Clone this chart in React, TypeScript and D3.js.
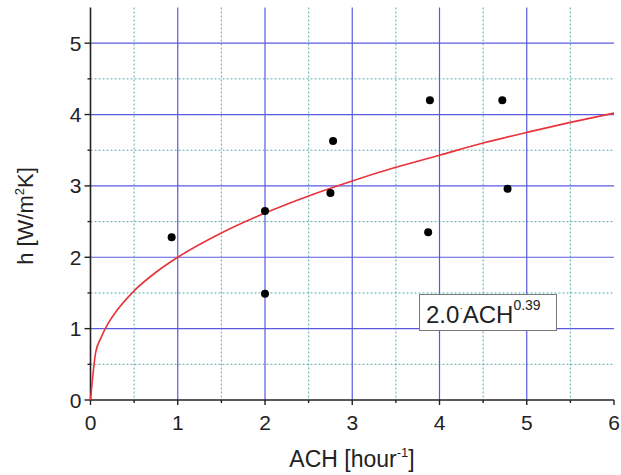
import { line, curveMonotoneX, range, scaleLinear } from "d3";

// measured points
const achValues = [0.93, 2.0, 2.0, 2.75, 2.78, 3.87, 3.89, 4.72, 4.78];
const hValues = [2.28, 2.65, 1.49, 2.9, 3.63, 2.35, 4.2, 4.2, 2.96];

// fitted curve 2.0·ACH^0.39
const fitAch = [0, 0.06, 0.12, 0.2, 0.3, 0.5, 0.75, 1, 1.5, 2, 2.5, 3, 3.5, 4, 4.5, 5, 5.5, 6];
const fitH = [0, 0.67, 0.87, 1.07, 1.25, 1.53, 1.79, 2.0, 2.34, 2.62, 2.86, 3.07, 3.26, 3.43, 3.6, 3.75, 3.89, 4.02];

const xTicks = [0, 1, 2, 3, 4, 5, 6];
const yTicks = [0, 1, 2, 3, 4, 5];

export default function App() {
  const width = 621;
  const height = 475;
  const margin = { top: 7.5, right: 7, bottom: 75, left: 90.5 };
  const innerRight = width - margin.right;
  const innerBottom = height - margin.bottom;

  const x = scaleLinear().domain([0, 6]).range([margin.left, innerRight]);
  const y = scaleLinear().domain([0, 5.5]).range([innerBottom, margin.top]);

  const minorX = range(0.5, 6, 1);
  const minorY = range(0.5, 5.5, 1);
  const majorX = xTicks.filter((t) => t > 0 && t < 6);
  const majorY = yTicks.filter((t) => t > 0);

  const fitPath = line<number>()
    .x((_, i) => x(fitAch[i]))
    .y((d) => y(d))
    .curve(curveMonotoneX)(fitH) ?? "";

  const font = "'Liberation Sans', Arial, sans-serif";
  const teal = "#5fa9a9";
  const blue = "#5a5ae0";
  const ink = "#222";

  return (
    <svg width={width} height={height} style={{ position: "absolute", left: 0, top: 0, background: "#fff" }} fontFamily={font}>
      {/* minor dotted grid */}
      {minorX.map((t) => (
        <line key={`mx${t}`} x1={x(t)} x2={x(t)} y1={y(5.5)} y2={y(0)} stroke={teal} strokeWidth={1} strokeDasharray="2,2" />
      ))}
      {minorY.map((t) => (
        <line key={`my${t}`} x1={x(0)} x2={x(6)} y1={y(t)} y2={y(t)} stroke={teal} strokeWidth={1} strokeDasharray="2,2" />
      ))}
      {/* major grid */}
      {majorX.map((t) => (
        <line key={`gx${t}`} x1={x(t)} x2={x(t)} y1={y(5.5)} y2={y(0)} stroke={blue} strokeWidth={1.2} />
      ))}
      {majorY.map((t) => (
        <line key={`gy${t}`} x1={x(0)} x2={x(6)} y1={y(t)} y2={y(t)} stroke={blue} strokeWidth={1.2} />
      ))}

      {/* axes */}
      <line x1={x(0)} x2={x(0)} y1={y(5.5)} y2={y(0)} stroke={ink} strokeWidth={1.6} />
      <line x1={x(0)} x2={x(6)} y1={y(0)} y2={y(0)} stroke={ink} strokeWidth={1.6} />
      {yTicks.map((t) => (
        <g key={`yt${t}`}>
          <line x1={x(0) - 6} x2={x(0)} y1={y(t)} y2={y(t)} stroke={ink} strokeWidth={1.4} />
          <text x={x(0) - 9} y={y(t) + 7.5} textAnchor="end" fontSize={21} fill={ink}>
            {t}
          </text>
        </g>
      ))}
      {minorY.map((t) => (
        <line key={`ymt${t}`} x1={x(0) - 3} x2={x(0)} y1={y(t)} y2={y(t)} stroke={ink} strokeWidth={1.4} />
      ))}
      {xTicks.map((t) => (
        <g key={`xt${t}`}>
          <line x1={x(t)} x2={x(t)} y1={y(0)} y2={y(0) + 5} stroke={ink} strokeWidth={1.4} />
          <text x={x(t)} y={y(0) + 30} textAnchor="middle" fontSize={21} fill={ink}>
            {t}
          </text>
        </g>
      ))}
      {minorX.map((t) => (
        <line key={`xmt${t}`} x1={x(t)} x2={x(t)} y1={y(0)} y2={y(0) + 3} stroke={ink} strokeWidth={1.4} />
      ))}

      {/* axis titles */}
      <text x={352} y={467} textAnchor="middle" fontSize={23} fill={ink}>
        ACH [hour
        <tspan fontSize={13} dy={-10}>-1</tspan>
        <tspan dy={10}>]</tspan>
      </text>
      <text transform="translate(33, 216) rotate(-90)" textAnchor="middle" fontSize={22} fill={ink}>
        h [W/m
        <tspan fontSize={13} dy={-9}>2</tspan>
        <tspan dy={9}>K]</tspan>
      </text>

      {/* fit curve */}
      <path d={fitPath} fill="none" stroke="#e8333a" strokeWidth={1.6} />

      {/* data points */}
      {achValues.map((a, i) => (
        <circle key={`p${i}`} cx={x(a)} cy={y(hValues[i])} r={4} fill="#000" />
      ))}

      {/* legend */}
      <rect x={419.5} y={294.5} width={137} height={36} fill="#fff" stroke="#777" strokeWidth={1} />
      <text x={426} y={323} fontSize={24} fill={ink}>
        2.0
        <tspan fontSize={10} dy={-11}>·</tspan>
        <tspan fontSize={24} dy={11}>ACH</tspan>
        <tspan fontSize={14} dy={-13}>0.39</tspan>
      </text>
    </svg>
  );
}
